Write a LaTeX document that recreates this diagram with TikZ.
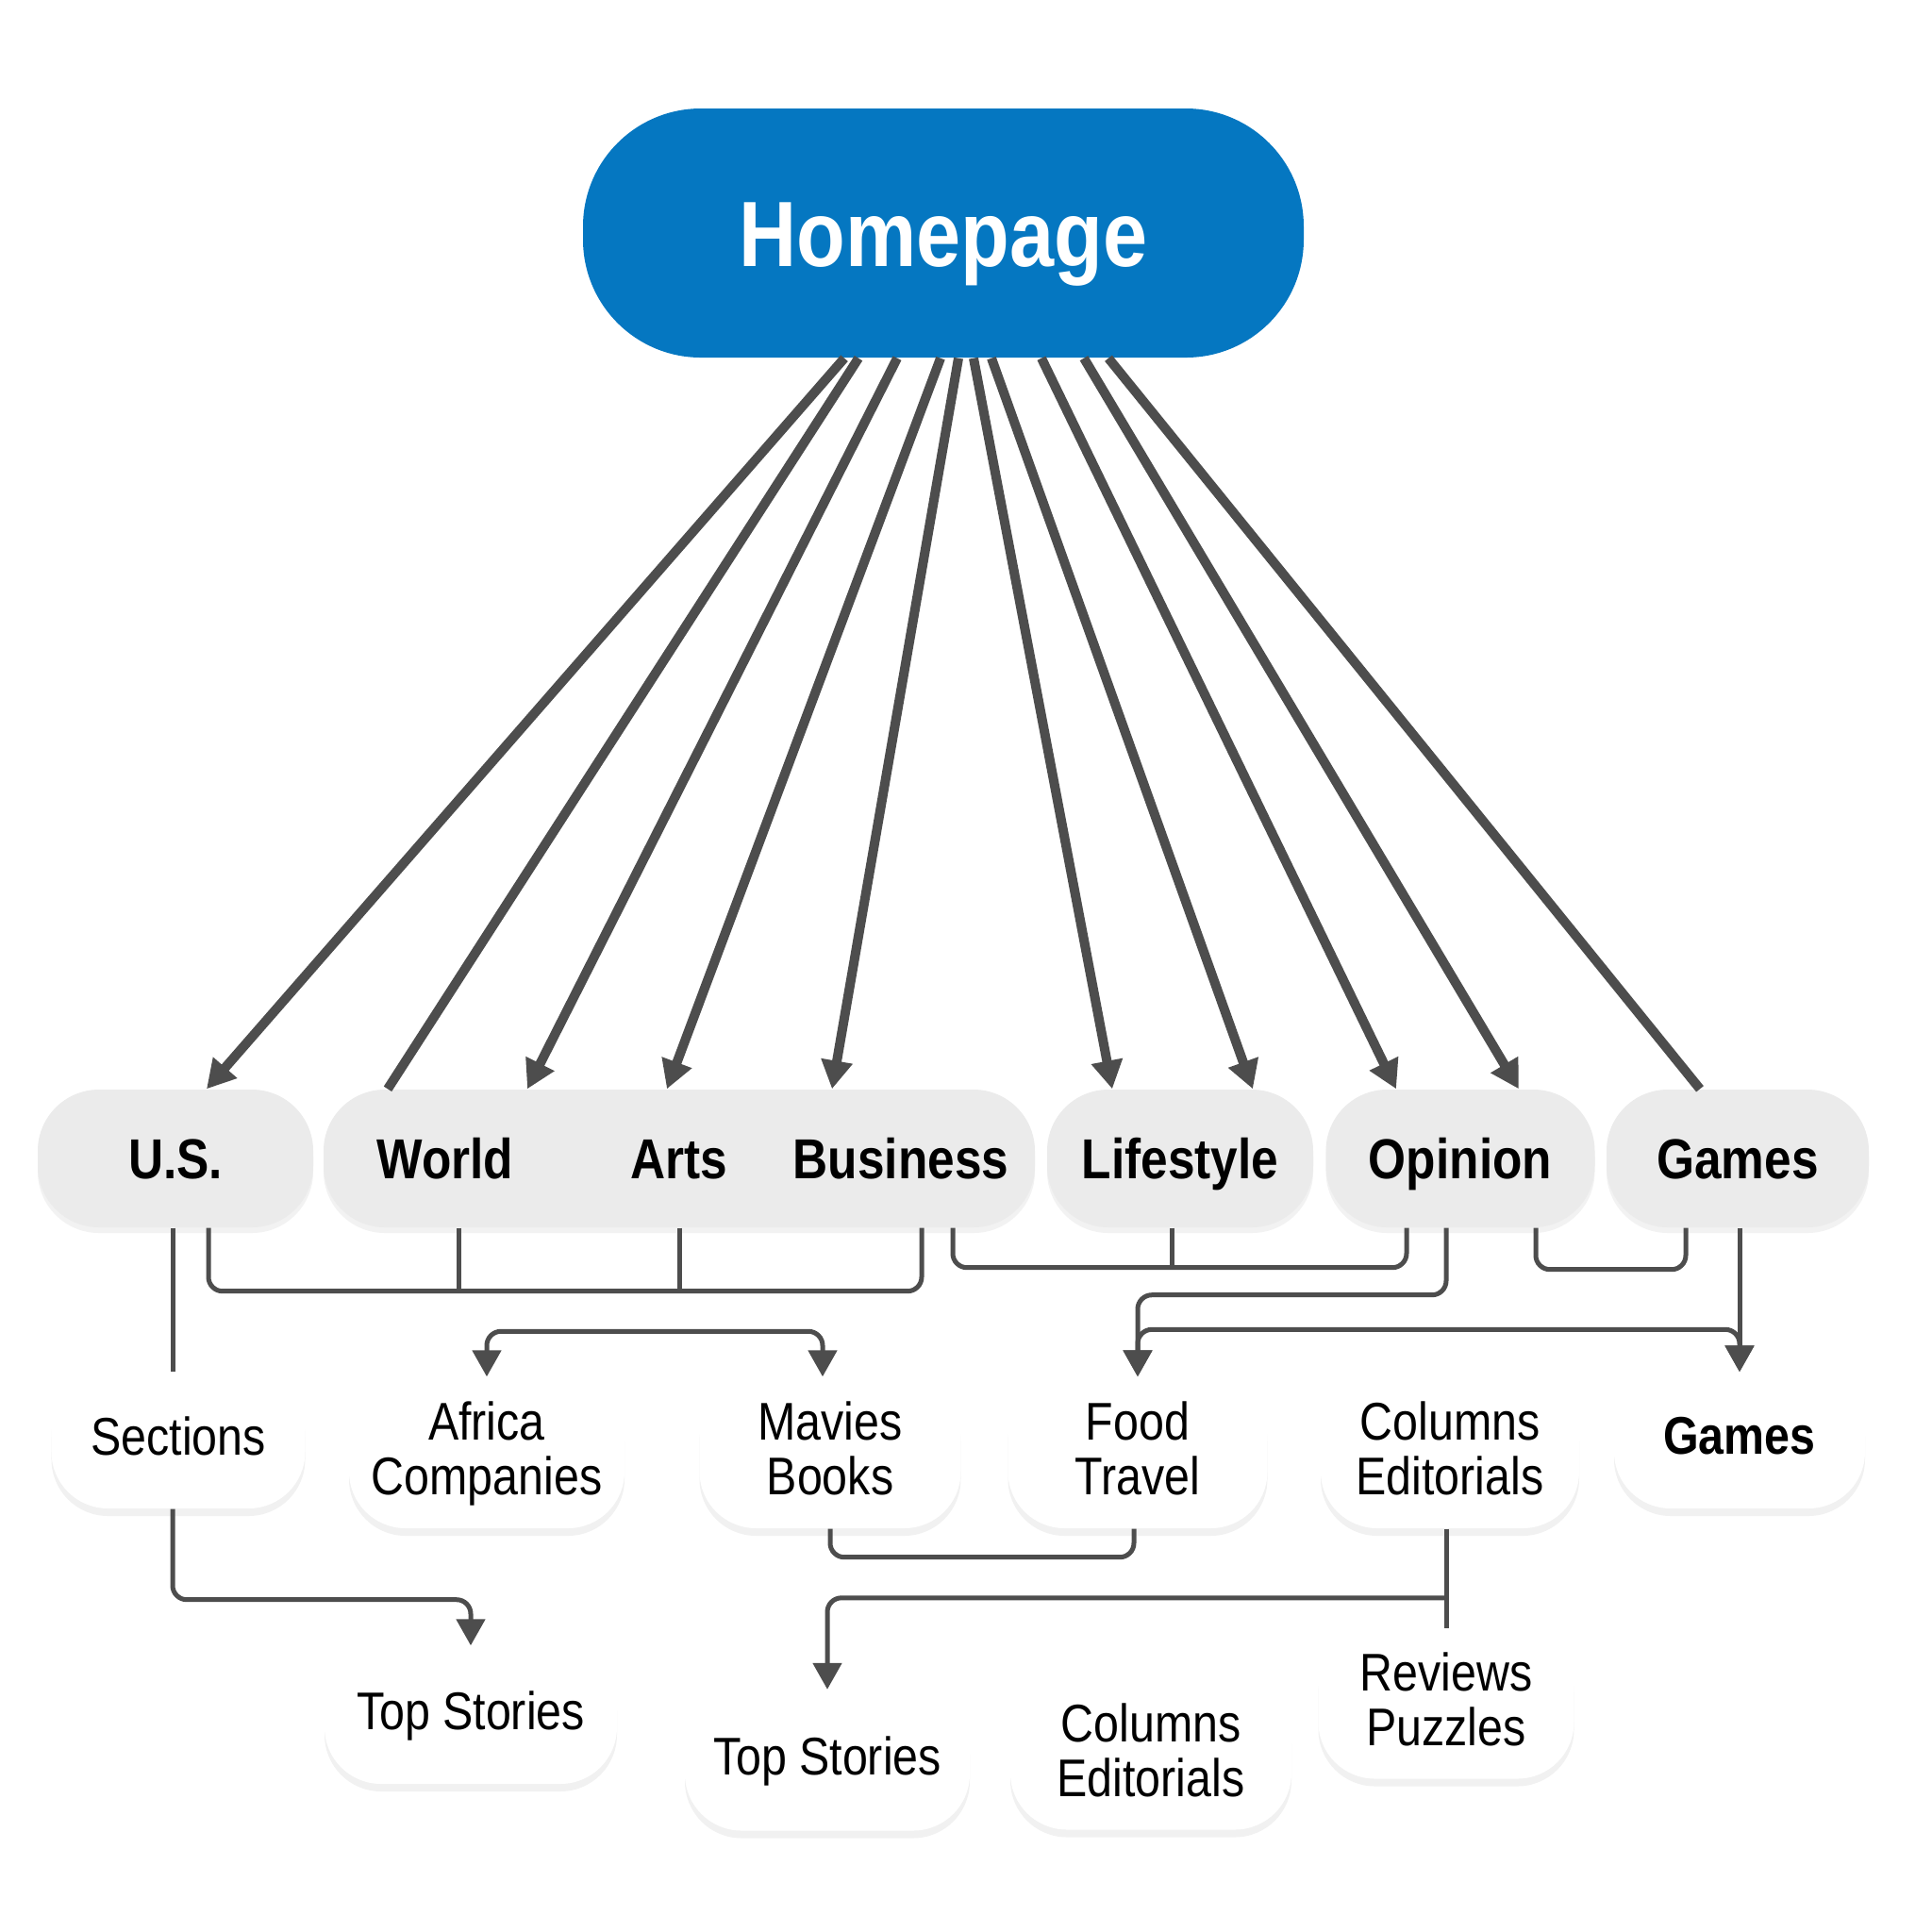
\documentclass[tikz,border=0pt]{standalone}
\usepackage{fontspec}
\setmainfont{Liberation Sans}[FakeStretch=0.86]
\usetikzlibrary{arrows.meta,shadows}
\definecolor{homeblue}{HTML}{0577C1}
\definecolor{secgray}{HTML}{EBEBEB}
\definecolor{linegray}{HTML}{4D4D4D}
\tikzset{
  homebox/.style={rectangle, rounded corners=1.25cm, fill=homeblue, text=white,
    minimum width=7.64cm, minimum height=2.64cm, inner sep=0pt,
    text height=20pt, text depth=0pt,
    font=\fontsize{28}{32}\selectfont\bfseries},
  secbox/.style={rectangle, rounded corners=0.65cm, fill=secgray, inner sep=0pt,
    minimum height=1.46cm, text height=12.2pt, text depth=0pt,
    font=\fontsize{17}{20}\selectfont\bfseries,
    drop shadow={shadow xshift=0cm, shadow yshift=-0.06cm, opacity=0.10}},
  subbox/.style={rectangle, rounded corners=0.6cm, fill=white, inner sep=0pt,
    align=center, text depth=3pt, font=\fontsize{16}{16.5}\selectfont,
    drop shadow={shadow xshift=0cm, shadow yshift=-0.08cm, opacity=0.11}},
  lbl/.style={inner sep=0pt, text height=12.2pt, text depth=0pt,
    font=\fontsize{17}{20}\selectfont\bfseries},
  spoke/.style={draw=linegray, line width=0.1cm, -{Triangle[length=0.3cm,width=0.32cm]}},
  link/.style={draw=linegray, line width=0.05cm, rounded corners=0.15cm},
  tip/.style={-{Triangle[length=0.28cm,width=0.3cm]}},
  twotips/.style={{Triangle[length=0.28cm,width=0.3cm]}-{Triangle[length=0.28cm,width=0.3cm]}},
}
\begin{document}
\begin{tikzpicture}
  \fill[white] (0,0) rectangle (20.48,-20.48);
  \useasboundingbox (0,0) rectangle (20.48,-20.48);

  \node[homebox] (home) at (10.00,-2.47) {Homepage};

  % sections
  \node[secbox, minimum width=2.92cm] (us) at (1.86,-12.28) {U.S.};
  \node[secbox, minimum width=7.54cm] (wab) at (7.20,-12.28) {};
  \node[lbl] (world) at (4.72,-12.28) {World};
  \node[lbl] (arts) at (7.20,-12.28) {Arts};
  \node[lbl] (business) at (9.55,-12.28) {Business};
  \node[secbox, minimum width=2.82cm] (life) at (12.51,-12.28) {Lifestyle};
  \node[secbox, minimum width=2.85cm] (opin) at (15.48,-12.28) {Opinion};
  \node[secbox, minimum width=2.78cm] (games) at (18.42,-12.28) {Games};

  % sub pages
  \node[subbox, minimum width=2.69cm, minimum height=1.44cm] (secs) at (1.89,-15.27) {Sections};
  \node[subbox, minimum width=2.92cm, minimum height=1.60cm] (afr) at (5.16,-15.40) {Africa\\Companies};
  \node[subbox, minimum width=2.77cm, minimum height=1.60cm] (mov) at (8.80,-15.40) {Mavies\\Books};
  \node[subbox, minimum width=2.75cm, minimum height=1.60cm] (food) at (12.06,-15.40) {Food\\Travel};
  \node[subbox, minimum width=2.74cm, minimum height=1.60cm] (cols) at (15.37,-15.40) {Columns\\Editorials};
  \node[subbox, minimum width=2.66cm, minimum height=1.44cm, font=\fontsize{16}{16.5}\selectfont\bfseries] (games2) at (18.44,-15.27) {Games};
  \node[subbox, minimum width=3.10cm, minimum height=1.46cm] (top1) at (4.99,-18.18) {Top Stories};
  \node[subbox, minimum width=3.02cm, minimum height=1.49cm] (top2) at (8.77,-18.66) {Top Stories};
  \node[subbox, minimum width=2.98cm, minimum height=1.59cm] (cols2) at (12.20,-18.60) {Columns\\Editorials};
  \node[subbox, minimum width=2.71cm, minimum height=1.59cm] (revs) at (15.33,-18.06) {Reviews\\Puzzles};

  % spokes from the homepage
  \draw[spoke] ([xshift=-1.05cm]home.south) -- ([xshift=0.33cm]us.north);
  \draw[spoke,-] ([xshift=-0.90cm]home.south) -- ([xshift=-3.09cm]wab.north);
  \draw[spoke] ([xshift=-0.49cm]home.south) -- ([xshift=-1.61cm]wab.north);
  \draw[spoke] ([xshift=-0.03cm]home.south) -- ([xshift=-0.13cm]wab.north);
  \draw[spoke] ([xshift=0.16cm]home.south) -- ([xshift=1.62cm]wab.north);
  \draw[spoke] ([xshift=0.32cm]home.south) -- ([xshift=-0.72cm]life.north);
  \draw[spoke] ([xshift=0.51cm]home.south) -- ([xshift=0.77cm]life.north);
  \draw[spoke] ([xshift=1.04cm]home.south) -- ([xshift=-0.68cm]opin.north);
  \draw[spoke] ([xshift=1.49cm]home.south) -- ([xshift=0.62cm]opin.north);
  \draw[spoke,-] ([xshift=1.75cm]home.south) -- ([xshift=-0.40cm]games.north);

  % links below the sections
  \draw[link] ([xshift=-0.06cm]us.south -| secs.north) -- ([xshift=-0.06cm]secs.north);
  \draw[link,tip] ([xshift=-0.06cm]secs.south) -- ++(0,-0.96) -| (top1.north);
  \draw[link] ([xshift=0.35cm]us.south) -- ++(0,-0.67) -| ([xshift=2.57cm]wab.south);
  \draw[link] ([xshift=-2.34cm]wab.south) -- ++(0,-0.67);
  \draw[link] (wab.south) -- ++(0,-0.67);
  \draw[link] ([xshift=2.90cm]wab.south) -- ++(0,-0.42) -| ([xshift=-0.57cm]opin.south);
  \draw[link] ([xshift=-0.09cm]life.south) -- ++(0,-0.42);
  \draw[link] ([xshift=0.80cm]opin.south) -- ++(0,-0.44) -| ([xshift=-0.55cm]games.south);
  \draw[link,tip] ([xshift=-0.15cm]opin.south) -- ++(0,-0.71) -| (food.north);
  \draw[link,tip] (games.south -| games2.north) -- (games2.north);
  \draw[link,twotips] (food.north) -- ++(0,0.50) -| (games2.north);
  \draw[link,twotips] (afr.north) -- ++(0,0.48) -| ([xshift=-0.08cm]mov.north);
  \draw[link] (mov.south) -- ++(0,-0.30) -| ([xshift=-0.04cm]food.south);
  \draw[link] (cols.south -| revs.north) -- (revs.north);
  \draw[link,tip] ([yshift=0.32cm]revs.north) -| (top2.north);
\end{tikzpicture}
\end{document}
